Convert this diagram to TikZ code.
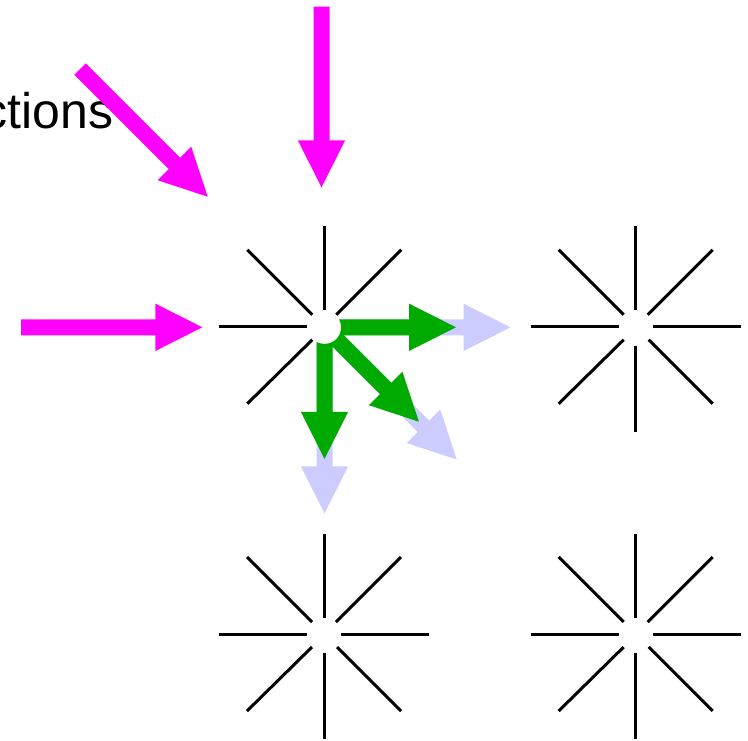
\documentclass[tikz,border=0pt]{standalone}
\usepackage{fontspec}
\setmainfont{Liberation Sans}
\definecolor{mag}{HTML}{FF00FF}
\definecolor{grn}{HTML}{00AA00}
\definecolor{lav}{HTML}{CCCCFF}
\tikzset{
  starline/.style={line width=3pt, draw=black},
  pics/fatarrow/.style={code={
    \fill (0,-8) -- (#1-47,-8) -- (#1-47,-23.7) -- (#1,0) -- (#1-47,23.7) -- (#1-47,8) -- (0,8) -- cycle;}},
  pics/starshape/.style={code={
    \draw[starline] (-105,0) -- (-17,0);
    \draw[starline] (17,0) -- (105,0);
    \draw[starline] (0,-100.5) -- (0,-16.5);
    \draw[starline] (0,19) -- (0,105);
    \draw[starline] (-77,-77) -- (-12,-12);
    \draw[starline] (77,-77) -- (12,-12);
    \draw[starline] (-77,77) -- (-12,13);
    \draw[starline] (77,77) -- (13,13);}},
  magarrow/.style={fill=mag},
  grnarrow/.style={fill=grn},
  lavarrow/.style={fill=lav},
}
\begin{document}
\begin{tikzpicture}[x=1pt,y=-1pt]
\path[use as bounding box] (0,0) rectangle (748,740);
\clip (0,0) rectangle (748,740);
% star centres
\coordinate (s1) at (324.3,326.7);
\coordinate (s2) at (635.7,326.7);
\coordinate (s3) at (324,634);
\coordinate (s4) at (635.7,634);
% stars
\pic at (s1) {starshape};
\pic at (s2) {starshape};
\pic at (s3) {starshape};
\pic at (s4) {starshape};
% label
\node[anchor=base west, inner sep=0pt, outer sep=0pt, font=\fontsize{50}{60}\selectfont] (lbl) at (-17,128) {ctions};
% magenta incoming arrows
\coordinate (mtop) at (321.5,6.7);
\coordinate (mdiag) at (80,69);
\coordinate (mleft) at (21,327.3);
\pic[magarrow, rotate=-90] at (mtop) {fatarrow=180.6};
\pic[magarrow, rotate=-45] at (mdiag) {fatarrow=180.6};
\pic[magarrow] at (mleft) {fatarrow=181.3};
% lavender (longer) arrows
\coordinate (c0) at (324.5,327.3);
\pic[lavarrow] at (c0) {fatarrow=186};
\pic[lavarrow, rotate=-90] at (c0) {fatarrow=186};
\pic[lavarrow, rotate=-45] at (c0) {fatarrow=187};
% green arrows
\pic[grnarrow] at (c0) {fatarrow=131.5};
\pic[grnarrow, rotate=-90] at (c0) {fatarrow=131.5};
\pic[grnarrow, rotate=-45] at (c0) {fatarrow=133.5};
% white hub
\fill[white] (c0) circle[radius=16.5];
\end{tikzpicture}
\end{document}
